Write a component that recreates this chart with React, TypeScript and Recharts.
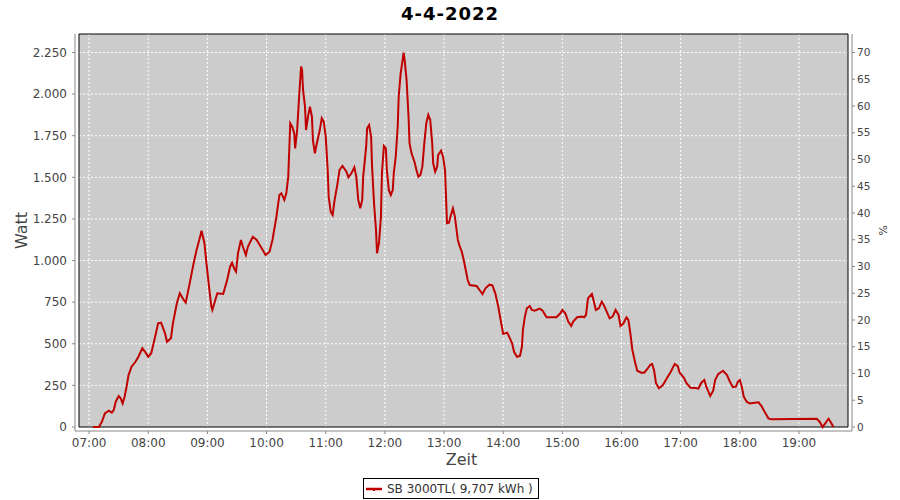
import React from 'react';
import { LineChart, Line, XAxis, YAxis, CartesianGrid, ReferenceArea, Legend } from 'recharts';

const title = '4-4-2022';
const seriesName = 'SB 3000TL( 9,707 kWh )';
const xTitle = 'Zeit';
const leftTitle = 'Watt';
const rightTitle = '%';

const times = [
  '07:04', '07:10', '07:13', '07:16', '07:20', '07:23', '07:25', '07:27', '07:30', '07:32',
  '07:34', '07:36', '07:38', '07:40', '07:43', '07:47', '07:50', '07:54', '07:57', '08:00',
  '08:03', '08:07', '08:10', '08:13', '08:17', '08:19', '08:23', '08:25', '08:29', '08:32',
  '08:36', '08:38', '08:42', '08:46', '08:49', '08:53', '08:54', '08:57', '08:59', '09:02',
  '09:04', '09:05', '09:08', '09:10', '09:16', '09:20', '09:23', '09:25', '09:27', '09:29',
  '09:31', '09:34', '09:36', '09:39', '09:41', '09:46', '09:50', '09:55', '09:59', '10:03',
  '10:06', '10:10', '10:13', '10:15', '10:18', '10:20', '10:22', '10:24', '10:26', '10:28',
  '10:29', '10:31', '10:33', '10:35', '10:36', '10:37', '10:39', '10:40', '10:42', '10:44',
  '10:46', '10:47', '10:49', '10:51', '10:54', '10:56', '10:58', '11:00', '11:02', '11:03',
  '11:05', '11:07', '11:09', '11:12', '11:14', '11:17', '11:21', '11:23', '11:26', '11:29',
  '11:31', '11:33', '11:35', '11:37', '11:38', '11:41', '11:42', '11:44', '11:46', '11:47',
  '11:49', '11:51', '11:52', '11:54', '11:56', '11:57', '11:59', '12:01', '12:02', '12:04',
  '12:06', '12:08', '12:09', '12:11', '12:13', '12:14', '12:16', '12:18', '12:19', '12:20',
  '12:22', '12:24', '12:25', '12:27', '12:30', '12:32', '12:34', '12:36', '12:38', '12:40',
  '12:42', '12:44', '12:46', '12:48', '12:49', '12:51', '12:53', '12:54', '12:57', '12:59',
  '13:01', '13:02', '13:03', '13:05', '13:07', '13:09', '13:11', '13:14', '13:16', '13:18',
  '13:20', '13:22', '13:24', '13:26', '13:33', '13:36', '13:39', '13:42', '13:46', '13:49',
  '13:52', '13:55', '13:58', '14:00', '14:04', '14:06', '14:09', '14:11', '14:14', '14:17',
  '14:19', '14:20', '14:22', '14:24', '14:27', '14:29', '14:32', '14:37', '14:40', '14:44',
  '14:54', '14:58', '15:00', '15:03', '15:06', '15:09', '15:11', '15:15', '15:20', '15:22',
  '15:24', '15:26', '15:29', '15:30', '15:32', '15:34', '15:37', '15:40', '15:42', '15:45',
  '15:48', '15:51', '15:54', '15:57', '15:59', '16:02', '16:05', '16:07', '16:09', '16:11',
  '16:14', '16:16', '16:20', '16:23', '16:26', '16:29', '16:31', '16:33', '16:35', '16:38',
  '16:42', '16:46', '16:50', '16:54', '16:57', '16:59', '17:03', '17:06', '17:10', '17:15',
  '17:18', '17:21', '17:24', '17:26', '17:30', '17:33', '17:35', '17:38', '17:43', '17:47',
  '17:50', '17:53', '17:56', '17:58', '18:00', '18:02', '18:04', '18:07', '18:10', '18:15',
  '18:19', '18:22', '18:26', '18:29', '18:32', '19:18', '19:21', '19:24', '19:30', '19:32',
  '19:35',
];

const watts = [
  0, 0, 32, 82, 98, 86, 102, 152, 186, 172,
  142, 182, 242, 312, 362, 392, 422, 473, 450, 422,
  443, 543, 623, 627, 563, 512, 533, 623, 743, 803,
  763, 747, 863, 984, 1063, 1154, 1179, 1104, 984, 823,
  723, 703, 763, 803, 799, 883, 963, 987, 953, 933,
  1044, 1124, 1083, 1033, 1083, 1143, 1124, 1074, 1033, 1053,
  1124, 1264, 1394, 1404, 1364, 1404, 1504, 1825, 1804, 1765,
  1674, 1784, 1984, 2165, 2145, 2025, 1924, 1784, 1864, 1924,
  1864, 1724, 1644, 1705, 1784, 1855, 1834, 1744, 1544, 1384,
  1294, 1274, 1364, 1464, 1544, 1568, 1534, 1500, 1524, 1560,
  1504, 1364, 1314, 1364, 1504, 1684, 1795, 1814, 1744, 1564,
  1344, 1184, 1044, 1104, 1264, 1524, 1688, 1674, 1544, 1424,
  1394, 1424, 1524, 1624, 1804, 1984, 2125, 2205, 2249, 2205,
  2085, 1864, 1705, 1644, 1594, 1544, 1504, 1514, 1564, 1705,
  1825, 1875, 1844, 1705, 1584, 1534, 1564, 1634, 1660, 1624,
  1544, 1384, 1224, 1227, 1274, 1314, 1264, 1124, 1083, 1053,
  1003, 943, 883, 853, 847, 823, 799, 833, 855, 851,
  803, 723, 623, 559, 567, 543, 503, 452, 422, 427,
  482, 583, 663, 713, 727, 703, 699, 711, 699, 659,
  659, 683, 703, 683, 633, 607, 633, 659, 663, 659,
  673, 773, 793, 799, 753, 703, 713, 753, 733, 693,
  653, 663, 703, 673, 607, 623, 659, 643, 563, 463,
  383, 338, 326, 326, 347, 373, 379, 342, 263, 233,
  252, 293, 332, 379, 366, 326, 299, 263, 236, 234,
  230, 266, 282, 242, 186, 218, 282, 318, 338, 312,
  272, 239, 242, 272, 282, 242, 182, 152, 142, 146,
  148, 126, 82, 52, 46, 50, 32, 0, 50, 32,
  0,
];

const hourTicks = [7, 8, 9, 10, 11, 12, 13, 14, 15, 16, 17, 18, 19];
const wattTicks = [0, 250, 500, 750, 1000, 1250, 1500, 1750, 2000, 2250];
const percentTicks = [0, 5, 10, 15, 20, 25, 30, 35, 40, 45, 50, 55, 60, 65, 70];

// axis ranges (JFreeChart-style) and the 4px axis offset around the data area
const timeRange = [6.829, 19.829];
const wattRange = [0, 2361];
const timeDomain = [6.7614, 19.8966];
const wattDomain = [-24, 2361];
const percentDomain = [-0.75, 73.46];

const FONT = '"DejaVu Sans", sans-serif';
const LINE_COLOR = '#C00000';
const AXIS_COLOR = '#888888';
const TEXT_COLOR = '#444444';

const toHours = (s: string) => {
  const [h, m] = s.split(':').map(Number);
  return h + m / 60;
};

const data = times.map((t, i) => ({ t: toHours(t), w: watts[i] }));

const fmtThousands = (v: number) => String(v).replace(/\B(?=(\d{3})+(?!\d))/g, '.');
const fmtHour = (h: number) => `${String(h).padStart(2, '0')}:00`;

const LegendBox = (props: any) => {
  const p = props.payload && props.payload[0];
  const color = (p && p.color) || LINE_COLOR;
  const name = (p && p.value) || seriesName;
  return (
    <div
      style={{
        boxSizing: 'border-box',
        width: 176,
        height: 21,
        border: '1px solid #000',
        background: '#fff',
        display: 'flex',
        alignItems: 'center',
        fontFamily: FONT,
        fontSize: 12,
        color: '#333',
        whiteSpace: 'nowrap',
        paddingLeft: 2,
      }}
    >
      <svg width={16} height={8} style={{ display: 'block' }}>
        <line x1={0} y1={4} x2={16} y2={4} stroke={color} strokeWidth={2.5} />
        <rect x={7} y={4} width={2} height={2} fill={color} />
      </svg>
      <span style={{ marginLeft: 5 }}>{name}</span>
    </div>
  );
};

export default function App() {
  return (
    <div style={{ position: 'absolute', left: 0, top: 0, width: 900, height: 500, background: '#fff' }}>
      <div
        style={{
          position: 'absolute',
          left: 0,
          top: 4,
          width: 900,
          textAlign: 'center',
          fontFamily: FONT,
          fontWeight: 'bold',
          fontSize: 18,
          letterSpacing: 1,
          lineHeight: '20px',
          color: '#000',
          zIndex: 2,
        }}
      >
        {title}
      </div>
      <LineChart
        width={900}
        height={500}
        data={data}
        margin={{ top: 34, right: 0, bottom: 0, left: 0 }}
      >
        <CartesianGrid
          yAxisId="left"
          stroke="#FFFFFF"
          strokeDasharray="2 2"
          fill="#CCCCCC"
          fillOpacity={1}
          horizontalValues={wattTicks.slice(1)}
          verticalValues={hourTicks}
        />
        {/* white axis-offset strips around the data area */}
        <ReferenceArea
          x1={timeDomain[0]}
          x2={timeRange[0]}
          y1={wattDomain[0]}
          y2={wattDomain[1]}
          yAxisId="left"
          fill="#FFFFFF"
          fillOpacity={1}
          stroke="none"
          ifOverflow="visible"
        />
        <ReferenceArea
          x1={timeRange[1]}
          x2={timeDomain[1]}
          y1={wattDomain[0]}
          y2={wattDomain[1]}
          yAxisId="left"
          fill="#FFFFFF"
          fillOpacity={1}
          stroke="none"
          ifOverflow="visible"
        />
        <ReferenceArea
          x1={timeDomain[0]}
          x2={timeDomain[1]}
          y1={wattDomain[0]}
          y2={wattRange[0]}
          yAxisId="left"
          fill="#FFFFFF"
          fillOpacity={1}
          stroke="none"
          ifOverflow="visible"
        />
        <ReferenceArea
          x1={timeRange[0]}
          x2={timeRange[1]}
          y1={wattRange[0]}
          y2={wattRange[1]}
          yAxisId="left"
          fill="none"
          stroke="#000"
          strokeWidth={1}
          ifOverflow="visible"
        />
        <XAxis
          dataKey="t"
          type="number"
          domain={timeDomain}
          ticks={hourTicks}
          allowDataOverflow
          tickFormatter={fmtHour}
          height={69}
          stroke={AXIS_COLOR}
          tickSize={3}
          tickMargin={4}
          tick={{ fill: TEXT_COLOR, fontSize: 12, fontFamily: FONT }}
          label={(p: any) => {
            const vb = p.viewBox || { x: 75, y: 431, width: 777, height: 69 };
            return (
              <text
                x={vb.x + vb.width / 2 - 2}
                y={vb.y + 34}
                textAnchor="middle"
                fill={TEXT_COLOR}
                fontSize={16}
                fontFamily={FONT}
              >
                {xTitle}
              </text>
            );
          }}
        />
        <YAxis
          yAxisId="left"
          type="number"
          domain={wattDomain}
          ticks={wattTicks}
          allowDataOverflow
          width={75}
          tickFormatter={fmtThousands}
          stroke={AXIS_COLOR}
          tickSize={3}
          tickMargin={5}
          tick={{ fill: TEXT_COLOR, fontSize: 12, fontFamily: FONT }}
          label={(p: any) => {
            const vb = p.viewBox || { x: 0, y: 34, width: 75, height: 397 };
            const cx = vb.x + 21;
            const cy = vb.y + (vb.height - 4) / 2;
            return (
              <text
                x={cx}
                y={cy}
                transform={`rotate(-90, ${cx}, ${cy})`}
                textAnchor="middle"
                dominantBaseline="central"
                fill={TEXT_COLOR}
                fontSize={16}
                fontFamily={FONT}
              >
                {leftTitle}
              </text>
            );
          }}
        />
        <YAxis
          yAxisId="right"
          orientation="right"
          type="number"
          domain={percentDomain}
          ticks={percentTicks}
          allowDataOverflow
          width={48}
          stroke={AXIS_COLOR}
          tickSize={3}
          tickMargin={2}
          tick={{ fill: TEXT_COLOR, fontSize: 10.5, fontFamily: FONT }}
          label={(p: any) => {
            const vb = p.viewBox || { x: 852, y: 34, width: 48, height: 397 };
            const cx = vb.x + 30;
            const cy = vb.y + (vb.height - 4) / 2;
            return (
              <text
                x={cx}
                y={cy}
                transform={`rotate(90, ${cx}, ${cy})`}
                textAnchor="middle"
                dominantBaseline="central"
                fill={TEXT_COLOR}
                fontSize={11}
                fontFamily={FONT}
              >
                {rightTitle}
              </text>
            );
          }}
        />
        <Line
          yAxisId="left"
          type="linear"
          dataKey="w"
          name={seriesName}
          stroke={LINE_COLOR}
          strokeWidth={2}
          dot={false}
          activeDot={false}
          isAnimationActive={false}
        />
        <Legend
          layout="vertical"
          align="center"
          verticalAlign="middle"
          content={LegendBox}
          wrapperStyle={{ position: 'absolute', left: 363, top: 478, width: 176, height: 21 }}
        />
      </LineChart>
    </div>
  );
}
